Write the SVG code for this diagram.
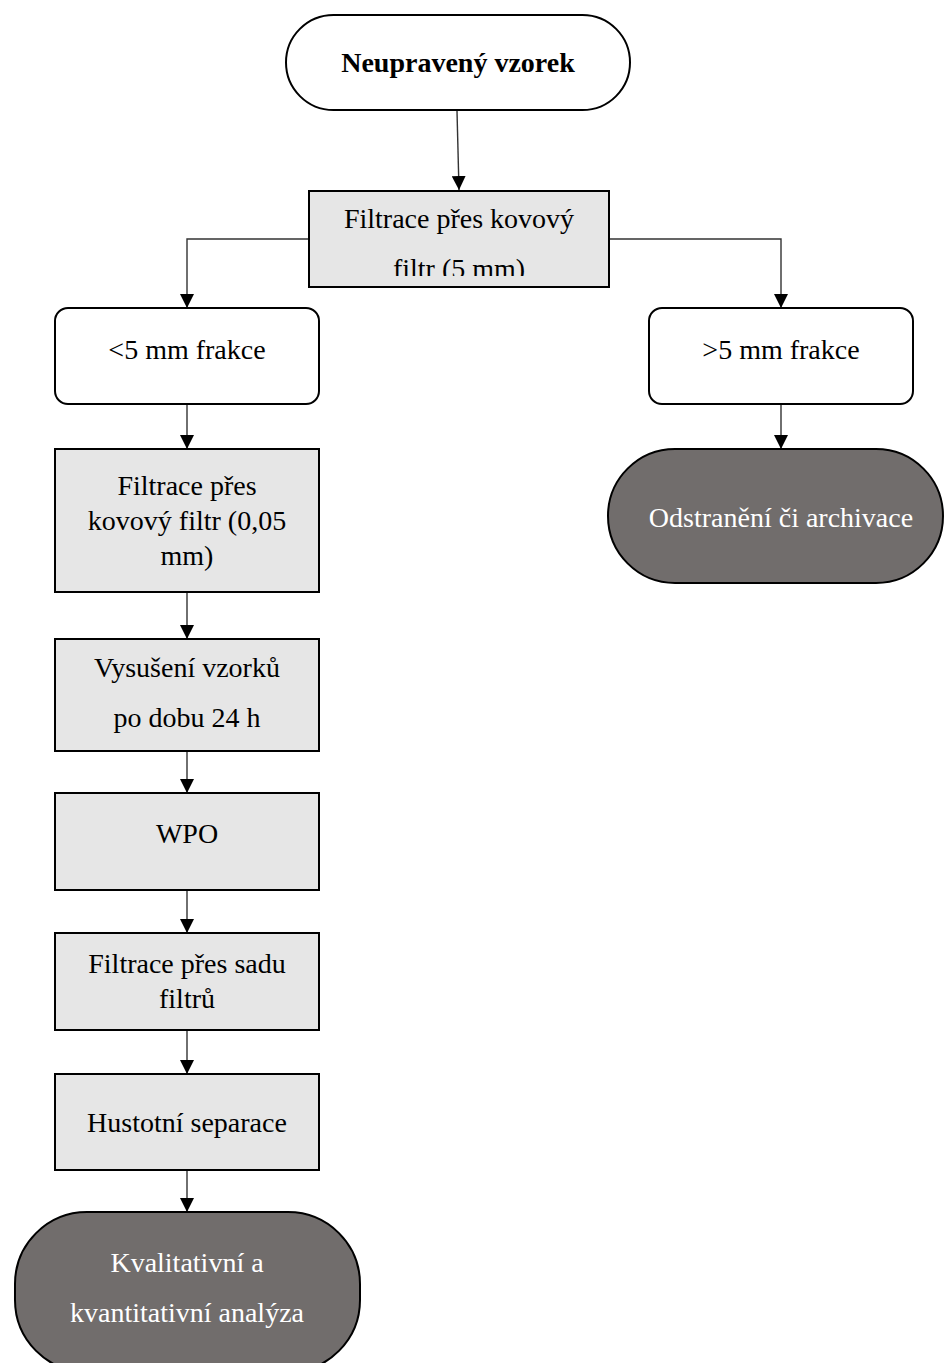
<svg xmlns="http://www.w3.org/2000/svg" width="944" height="1363" viewBox="0 0 944 1363">
<style>
.t{font-family:"Liberation Serif","Times New Roman",serif;font-size:28px;fill:#000;text-anchor:middle}
.b{font-weight:bold}
.w{fill:#fff}
.box{fill:#e6e6e6;stroke:#000;stroke-width:2}
.rnd{fill:#fff;stroke:#000;stroke-width:2}
.term{fill:#fff;stroke:#000;stroke-width:2}
.dark{fill:#716d6c;stroke:#000;stroke-width:2}
.c{fill:none;stroke:#333;stroke-width:1.4}
</style>
<defs>
<marker id="ah" markerUnits="userSpaceOnUse" markerWidth="14" markerHeight="14" refX="14" refY="7" orient="auto">
<path d="M0,0 L14,7 L0,14 z" fill="#000"/>
</marker>
<clipPath id="clipF"><rect x="309" y="191" width="301" height="85"/></clipPath>
</defs>
<rect width="944" height="1363" fill="#fff"/>
<g id="connectors">
<line class="c" x1="457" y1="111" x2="459" y2="190" marker-end="url(#ah)"/>
<polyline class="c" points="309,239 187,239 187,308" marker-end="url(#ah)"/>
<polyline class="c" points="609,239 781,239 781,308" marker-end="url(#ah)"/>
<line class="c" x1="187" y1="404" x2="187" y2="449" marker-end="url(#ah)"/>
<line class="c" x1="781" y1="404" x2="781" y2="449" marker-end="url(#ah)"/>
<line class="c" x1="187" y1="592" x2="187" y2="639" marker-end="url(#ah)"/>
<line class="c" x1="187" y1="751" x2="187" y2="793" marker-end="url(#ah)"/>
<line class="c" x1="187" y1="890" x2="187" y2="933" marker-end="url(#ah)"/>
<line class="c" x1="187" y1="1030" x2="187" y2="1074" marker-end="url(#ah)"/>
<line class="c" x1="187" y1="1170" x2="187" y2="1212" marker-end="url(#ah)"/>
</g>
<g id="n_start">
<rect class="term" x="286" y="15" width="344" height="95" rx="47.5"/>
<text class="t b" x="458" y="72">Neupravený vzorek</text>
</g>
<g id="n_filtr5">
<rect class="box" x="309" y="191" width="300" height="96"/>
<g clip-path="url(#clipF)">
<text class="t" x="459" y="228">Filtrace přes kovový</text>
<text class="t" x="459" y="278">filtr (5 mm)</text>
</g>
</g>
<g id="n_small">
<rect class="rnd" x="55" y="308" width="264" height="96" rx="13"/>
<text class="t" x="187" y="359">&lt;5 mm frakce</text>
</g>
<g id="n_large">
<rect class="rnd" x="649" y="308" width="264" height="96" rx="13"/>
<text class="t" x="781" y="359">&gt;5 mm frakce</text>
</g>
<g id="n_remove">
<rect class="dark" x="608" y="449" width="335" height="134" rx="67"/>
<text class="t w" x="781" y="527">Odstranění či archivace</text>
</g>
<g id="n_filtr005">
<rect class="box" x="55" y="449" width="264" height="143"/>
<text class="t" x="187" y="495">Filtrace přes</text>
<text class="t" x="187" y="530">kovový filtr (0,05</text>
<text class="t" x="187" y="565">mm)</text>
</g>
<g id="n_dry">
<rect class="box" x="55" y="639" width="264" height="112"/>
<text class="t" x="187" y="677">Vysušení vzorků</text>
<text class="t" x="187" y="727">po dobu 24 h</text>
</g>
<g id="n_wpo">
<rect class="box" x="55" y="793" width="264" height="97"/>
<text class="t" x="187" y="843">WPO</text>
</g>
<g id="n_sada">
<rect class="box" x="55" y="933" width="264" height="97"/>
<text class="t" x="187" y="973">Filtrace přes sadu</text>
<text class="t" x="187" y="1008">filtrů</text>
</g>
<g id="n_hust">
<rect class="box" x="55" y="1074" width="264" height="96"/>
<text class="t" x="187" y="1132">Hustotní separace</text>
</g>
<g id="n_analysis">
<rect class="dark" x="15" y="1212" width="345" height="160" rx="72"/>
<text class="t w" x="187" y="1272">Kvalitativní a</text>
<text class="t w" x="187" y="1322">kvantitativní analýza</text>
</g>
</svg>
